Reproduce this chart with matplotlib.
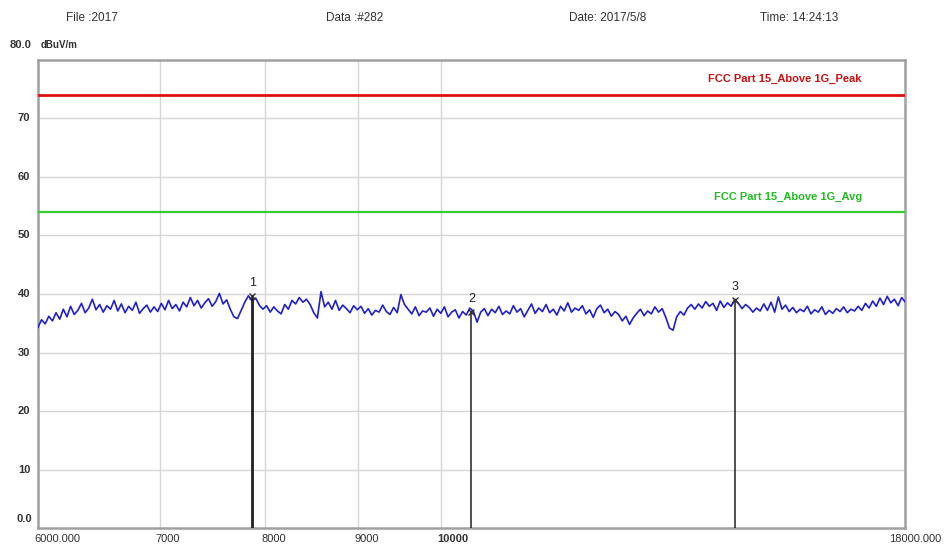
import numpy as np
import matplotlib
matplotlib.use('Agg')
import matplotlib.pyplot as plt
from matplotlib.transforms import blended_transform_factory

plt.rcParams['font.family'] = ['Liberation Sans Narrow', 'Liberation Sans', 'DejaVu Sans']

# header info
header = ['File :2017', 'Data :#282', 'Date: 2017/5/8', 'Time: 14:24:13']

# limit lines (dBuV/m)
peak_limit = 74.0
avg_limit = 54.0
peak_name = 'FCC Part 15_Above 1G_Peak'
avg_name = 'FCC Part 15_Above 1G_Avg'

f_start, f_stop = 6000, 18000
trace = [34.3, 35.6, 34.9, 36.2, 35.4, 36.8, 35.7, 37.4, 36.1, 37.9, 36.5, 37.2, 38.4, 36.8, 37.6, 39.1, 37.3, 38.2, 36.9, 38.0,
         37.4, 38.9, 37.1, 38.3, 36.8, 37.9, 37.2, 38.6, 36.7, 37.5, 38.1, 36.9, 37.8, 37.0, 38.4, 37.3, 38.9, 37.5, 38.2, 37.1, 38.6,
         37.8, 39.4, 38.0, 38.9, 37.6, 38.5, 39.2, 37.9, 38.7, 40.1, 38.3, 39.0, 37.4, 36.1, 35.8, 37.2, 38.6,
         39.7, 38.8, 39.3, 38.1, 37.4, 38.0,
         36.9, 37.8, 37.1, 36.6, 38.2, 37.4, 38.9, 38.3, 39.4, 38.6, 39.1, 38.2, 36.8, 35.9, 40.4, 37.8, 38.6, 37.4, 38.9, 37.2,
         38.1, 37.5, 36.8, 38.0, 37.3,
         37.9, 36.7, 37.5, 36.4, 37.2, 36.9, 38.1, 37.0, 36.5, 37.7, 36.8, 39.9, 38.2, 37.4, 36.6, 37.8, 36.3, 37.1, 36.9, 37.6,
         36.2, 37.4, 36.7, 37.8, 36.1, 36.9, 37.3,
         35.9, 37.0, 36.4, 37.6, 37.0,
         35.2, 36.9, 37.5, 36.3, 37.4, 36.8, 37.9, 36.5, 37.1, 36.6, 38.0, 36.9, 37.5, 36.1, 37.2, 38.3, 36.7, 37.6, 37.0, 38.2,
         36.8, 37.4, 36.4, 37.9, 37.1, 38.5, 36.9, 37.6, 37.2, 38.0, 36.6, 37.3, 36.0, 37.5, 38.1, 36.8, 37.4, 36.2, 37.0, 36.5,
         35.4, 36.2, 34.8, 35.9, 36.7, 37.4, 36.3, 37.1, 36.6, 37.8, 36.9, 37.5, 36.0, 34.2, 33.8, 36.1, 37.0, 36.4, 37.6, 38.2,
         37.4, 38.3, 37.6, 38.7, 37.9, 38.4, 37.2, 38.8, 37.7, 38.5, 37.9, 39.1,
         38.4, 37.5, 38.2, 37.7, 36.9, 37.6, 37.1, 38.3, 37.2, 38.6, 36.9, 39.5, 37.4, 38.1, 37.0, 37.7, 36.8, 37.4, 37.0, 37.9,
         36.6, 37.3, 36.9, 37.8, 36.5, 37.2, 36.7, 37.5, 37.0, 37.8, 36.8, 37.4, 37.1,
         37.9, 37.2, 38.4, 37.6, 38.8, 37.9, 39.3, 38.2, 39.6, 38.5, 39.1, 38.0, 39.4, 38.6]
freqs = np.geomspace(f_start, f_stop, len(trace))

# markers
mk_freq = [7870, 10390, 14510]
mk_level = [39.6, 37.0, 39.0]
mk_label = ['1', '2', '3']

# axis
y_ticks = [10, 20, 30, 40, 50, 60, 70]
x_grid = [7000, 8000, 9000, 10000]
x_labels = ['6000.000', '7000', '8000', '9000', '10000', '18000.000']
x_label_pos = [6000, 7000, 8000, 9000, 10000, 18000]

fig = plt.figure(figsize=(9.48, 5.49), dpi=100)
ax = fig.add_axes([0.040, 0.038, 0.915, 0.853])
ax.set_xscale('log')
ax.set_xlim(f_start, f_stop)
ax.set_ylim(0, 80)

for y in y_ticks:
    ax.axhline(y, color='#d6d6d6', lw=1.0, zorder=1)
for x in x_grid:
    ax.axvline(x, color='#d6d6d6', lw=1.0, zorder=1)

ax.axhline(peak_limit, color='#e01010', lw=2, zorder=3)
ax.axhline(avg_limit, color='#33cc33', lw=1.6, zorder=3)
ax.text(0.950, 0.959, peak_name, transform=ax.transAxes, color='#cc1010',
        fontsize=8, fontweight='bold', ha='right', va='center')
ax.text(0.950, 0.707, avg_name, transform=ax.transAxes, color='#22bb22',
        fontsize=8, fontweight='bold', ha='right', va='center')

ax.plot(freqs, trace, color='#2020cc', lw=1.2, zorder=4)

for f, lv, lb in zip(mk_freq, mk_level, mk_label):
    lw = 2 if lb == '1' else 1.1
    ax.plot([f, f], [0, lv], color='#202020', lw=lw, zorder=5)
    ax.plot(f, lv, marker='x', color='#333333', ms=5, mew=1, zorder=6)
    ax.text(f, lv + 1.2, lb, ha='center', va='bottom', fontsize=9, color='#222222', zorder=6)

for s in ax.spines.values():
    s.set_color('#a0a0a0')
    s.set_linewidth(1.8)
ax.set_xticks([])
ax.set_yticks([])
ax.minorticks_off()

# y labels
ytr = blended_transform_factory(ax.transAxes, ax.transData)
for y in y_ticks:
    ax.text(-0.016, y, str(y), transform=ytr, ha='center', va='center',
            fontsize=8, fontweight='bold', color='#333333')
ax.text(-0.016, 1.5, '0.0', transform=ytr, ha='center', va='center',
        fontsize=8, fontweight='bold', color='#333333')
fig.text(0.010, 0.918, '80.0', fontsize=8, fontweight='bold', color='#333333', va='center')
fig.text(0.043, 0.918, 'dBuV/m', fontsize=7, fontweight='bold', color='#333333', va='center')

# x labels
tr = blended_transform_factory(ax.transData, ax.transAxes)
for xp, lb in zip(x_label_pos, x_labels):
    if xp == f_stop:
        ax.text(xp * 1.012, -0.012, lb, transform=tr, ha='center', va='top', fontsize=8, color='#333333')
    else:
        ax.text(xp * 0.995, -0.012, lb, transform=tr, ha='left', va='top', fontsize=8,
                fontweight='bold' if lb == '10000' else 'normal', color='#333333')

# header
hx = [0.070, 0.344, 0.600, 0.802]
for x, s in zip(hx, header):
    fig.text(x, 0.968, s, fontsize=8.5, color='#333333', va='center')

fig.savefig('out.png', dpi=100)
